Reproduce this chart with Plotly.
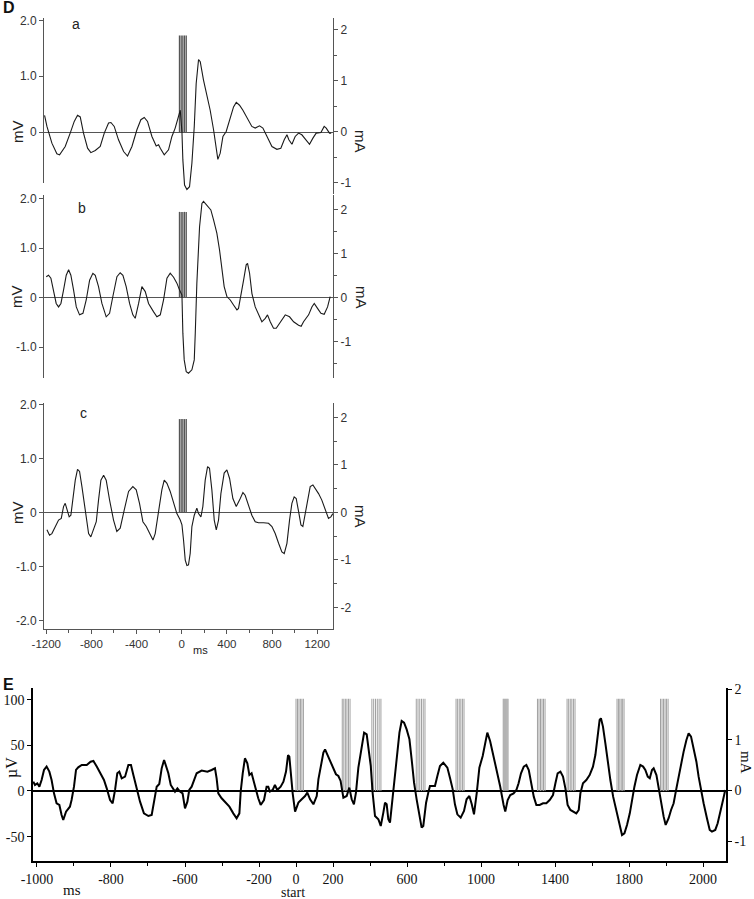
import plotly.graph_objects as go

W, H = 754, 899

# ---------------- Panel D data: time (ms) and potential (mV) ----------------
a_ms = [-1215,-1194,-1150,-1106,-1082,-1032,-988,-952,-923,-899,-870,-834,-805,-766,-722,-686,-648,-627,-598,-560,
        -515,-480,-441,-397,-362,-332,-303,-264,-226,-205,-190,-155,-117,-87,-58,-28,-13,2,10,25,46,69,90,111,128,
        149,164,193,223,252,282,306,320,341,365,394,424,459,483,512,542,583,621,651,689,719,754,799,843,878,908,932,
        949,976,1005,1035,1064,1103,1132,1162,1191,1233,1262,1280,1309,1324]
a_mv = [0.30,0.10,-0.20,-0.39,-0.41,-0.26,-0.02,0.19,0.30,0.27,-0.02,-0.29,-0.37,-0.33,-0.26,-0.02,0.16,0.17,0.10,-0.14,
        -0.35,-0.43,-0.26,0.04,0.22,0.26,0.19,-0.08,-0.25,-0.23,-0.29,-0.41,-0.32,-0.08,0.07,0.30,0.39,0.0,-0.50,-0.95,
        -1.03,-0.98,-0.56,0.10,0.87,1.30,1.26,0.93,0.66,0.39,0.04,-0.32,-0.49,-0.38,-0.08,0.01,0.22,0.45,0.53,0.48,
        0.39,0.24,0.10,0.07,0.11,0.07,-0.08,-0.26,-0.31,-0.29,-0.14,-0.05,-0.14,-0.22,-0.08,-0.02,-0.05,-0.14,-0.22,
        -0.11,-0.02,-0.01,0.10,0.07,-0.02,-0.02]

b_ms = [-1200,-1180,-1159,-1135,-1112,-1091,-1070,-1047,-1023,-1002,-982,-958,-934,-905,-875,-846,-816,-787,-766,-737,
        -707,-669,-639,-610,-574,-545,-521,-492,-462,-433,-412,-382,-353,-323,-294,-249,-220,-190,-161,-131,-102,-72,
        -43,-19,2,10,22,40,60,90,111,120,134,158,179,193,223,258,282,311,335,356,376,400,430,459,489,503,524,548,571,
        583,601,622,651,680,710,740,760,784,813,837,872,917,955,991,1035,1058,1079,1124,1153,1174,1203,1233,1262,1292,1315]
b_mv = [0.42,0.45,0.39,0.15,-0.12,-0.19,-0.12,0.15,0.45,0.56,0.45,0.15,-0.19,-0.35,-0.32,-0.05,0.35,0.49,0.45,0.22,
        -0.12,-0.39,-0.32,0.02,0.42,0.50,0.45,0.22,-0.12,-0.35,-0.42,-0.12,0.22,0.12,-0.12,-0.29,-0.39,-0.35,-0.05,0.39,
        0.49,0.41,0.29,0.15,0.05,-0.72,-1.26,-1.50,-1.53,-1.46,-1.26,-0.72,0.29,1.43,1.90,1.94,1.87,1.77,1.57,1.30,
        0.96,0.62,0.22,0.02,-0.05,-0.15,-0.25,-0.22,0.02,0.35,0.66,0.69,0.49,0.08,-0.19,-0.35,-0.49,-0.42,-0.35,-0.49,
        -0.62,-0.62,-0.49,-0.35,-0.39,-0.49,-0.56,-0.58,-0.49,-0.35,-0.19,-0.12,-0.22,-0.32,-0.34,-0.19,0.02]

c_ms = [-1194,-1171,-1150,-1121,-1091,-1067,-1047,-1032,-1017,-997,-982,-964,-943,-923,-905,-884,-855,-825,-805,-781,
        -757,-737,-716,-692,-669,-639,-604,-575,-545,-509,-471,-433,-403,-374,-344,-314,-285,-255,-235,-205,-176,-155,
        -131,-102,-72,-43,-13,2,16,31,46,60,75,90,111,134,149,170,187,208,229,246,267,288,306,326,347,376,400,424,453,
        483,512,542,562,592,621,651,680,725,769,799,828,858,887,908,932,955,976,996,1014,1035,1056,1073,1094,1115,1138,
        1162,1183,1212,1241,1271,1300,1321,1339]
c_mv = [-0.32,-0.42,-0.39,-0.26,-0.14,-0.11,0.11,0.17,0.08,-0.08,-0.05,0.23,0.60,0.80,0.76,0.48,0.05,-0.39,-0.45,-0.32,
        -0.17,0.23,0.60,0.69,0.60,0.23,-0.14,-0.35,-0.29,0.05,0.39,0.48,0.42,0.17,-0.17,-0.26,-0.39,-0.51,-0.39,0.05,
        0.42,0.60,0.54,0.39,0.20,-0.02,-0.14,-0.23,-0.51,-0.88,-0.98,-0.97,-0.76,-0.26,-0.05,0.08,-0.02,-0.08,0.11,0.60,
        0.85,0.82,0.42,-0.14,-0.32,-0.14,0.35,0.73,0.79,0.63,0.26,0.11,0.23,0.37,0.32,0.11,-0.05,-0.17,-0.19,-0.19,
        -0.20,-0.26,-0.39,-0.57,-0.73,-0.76,-0.57,-0.14,0.17,0.29,0.26,0.02,-0.23,-0.26,-0.02,0.29,0.48,0.51,0.45,0.35,
        0.23,0.05,-0.11,-0.08,-0.02]

# stimulus pulse train shown in panels a-c (ms), drawn up to this height (mV)
d_pulse_ms = [-20, -5, 10, 25, 40]
d_pulse_top_mv = 1.73

# ---------------- Panel E data: time (ms) and potential (uV) ----------------
e_ms = [-1420,-1411,-1398,-1387,-1375,-1362,-1348,-1333,-1321,-1308,-1294,-1279,-1267,-1258,-1243,-1222,-1213,-1200,
        -1189,-1177,-1158,-1131,-1110,-1095,-1077,-1059,-1038,-1023,-1005,-991,-978,-966,-955,-942,-924,-906,-892,-879,
        -861,-843,-822,-798,-780,-768,-753,-739,-726,-713,-703,-690,-677,-654,-641,-627,-613,-600,-587,-577,-564,-537,
        -510,-479,-456,-438,-429,-420,-402,-384,-360,-339,-321,-306,-299,-288,-276,-263,-252,-240,-222,-204,-191,-173,
        -159,-150,-141,-126,-114,-101,-83,-68,-54,-43,-36,-29,-18,-5,
        13,31,49,61,76,94,112,121,133,148,157,169,184,202,216,229,241,256,274,288,301,313,324,337,351,368,382,391,404,
        414,427,445,458,472,481,490,499,508,522,535,548,559,571,584,598,613,625,638,652,667,679,688,703,715,724,739,751,
        764,778,796,818,832,847,859,872,890,908,922,937,950,962,977,991,1009,1027,1034,1049,1063,1081,1094,1103,
        1122,1131,1144,1158,1176,1191,1203,1216,1231,1245,1258,1270,1285,1299,1317,1335,1353,1371,1389,1402,1414,1429,
        1443,1456,1468,1483,1501,1515,1528,1537,1551,1569,1587,1605,1618,1630,1641,1648,1659,1672,1685,1699,1714,1732,
        1750,1762,1775,1789,1804,1816,1829,1843,1861,1876,1888,1901,1912,1924,1933,1948,1960,1973,1987,1998,2014,2027,
        2041,2056,2068,2081,2095,2110,2122,2135,2149,2164,2176,2189,2203,2221,2236,2248,2266,2279,2293,2308,2320]
e_uv = [10.2,6.6,8.4,4.7,12.0,23.0,26.7,21.2,12.0,-2.6,-13.5,-15.3,-26.3,-31.8,-22.6,-17.2,-9.9,4.7,23.0,25.9,28.5,
        28.5,32.1,32.9,26.7,19.4,12.0,2.9,-9.9,-13.5,1.1,19.4,21.2,13.9,15.7,28.5,28.5,17.5,2.9,-11.7,-24.5,-27.4,-26.3,
        -13.5,4.7,7.7,24.8,34.0,26.7,19.4,6.6,-0.7,2.9,-0.7,-2.6,-19.0,-11.7,1.1,4.7,19.4,22.3,21.2,23.0,24.8,13.9,-2.6,
        -8.0,-11.7,-17.2,-24.5,-29.9,-24.5,-0.7,19.4,35.8,30.3,17.5,19.4,4.7,-8.0,-15.3,-9.9,4.7,4.7,-0.7,1.1,6.6,1.1,
        4.7,10.2,21.2,39.4,37.6,19.4,-2.6,-22.6,
        -12.8,-9.1,-5.5,-1.8,-9.1,-14.6,-5.5,12.8,27.4,42.0,45.6,40.2,32.9,23.7,18.3,16.4,11.0,-7.3,-5.5,3.7,-9.1,-14.6,
        -1.8,25.6,43.8,63.9,62.1,47.5,27.4,-1.8,-27.4,-31.0,-38.3,-23.7,-12.8,-14.6,-31.0,-34.7,-9.1,20.1,42.0,63.9,
        76.7,74.8,67.5,56.6,34.7,9.1,-9.1,-29.2,-40.2,-38.3,-12.8,-1.8,5.5,5.5,5.5,16.4,27.4,31.0,25.6,14.6,1.8,-14.6,
        -25.6,-29.2,-21.9,-9.1,-5.5,-14.6,-25.6,-1.8,25.6,38.3,58.4,63.9,54.8,42.0,27.4,14.6,5.5,
        -15.3,-22.6,-9.9,-4.4,-2.6,1.1,8.4,19.4,26.7,28.5,23.0,8.4,-6.2,-15.3,-15.3,-13.5,-13.5,-9.9,-4.4,8.4,19.4,21.2,
        15.7,2.9,-15.3,-20.8,-22.6,-24.5,-20.8,-2.6,8.4,12.0,17.5,26.7,39.4,59.5,77.8,79.6,70.5,52.2,32.1,12.0,-6.2,
        -22.6,-39.1,-48.2,-46.4,-37.2,-24.5,-9.9,4.7,17.5,28.5,26.7,23.0,15.7,13.9,23.0,24.8,17.5,2.9,-13.5,-28.1,-37.2,
        -29.9,-20.8,-13.5,2.9,15.7,28.5,43.1,55.9,63.2,59.5,46.7,32.1,15.7,1.1,-13.5,-29.9,-42.7,-44.5,-42.7,-35.4,
        -24.5,-9.9,1.1]

# stimulus bursts in E (ms), drawn as pulse lines up to this height (uV)
e_burst_start = [0, 250, 410, 650, 865, 1120, 1305, 1465, 1735, 1970]
e_burst_end = [40, 292, 459, 697, 908, 1146, 1346, 1508, 1773, 2011]
e_pulses_per_burst = 6
e_burst_top_uv = 101

# ---------------- tick labels ----------------
d_x_tickvals = [-1200, -800, -400, 0, 400, 800, 1200]
d_x_ticktext = ["-1200", "-800", "-400", "0", "400", "800", "1200"]
d_x_minor = [-1000, -600, -200, 200, 600, 1000]
e_x_tickvals = [-1400, -1000, -600, -200, 0, 200, 600, 1000, 1400, 1800, 2200]
e_x_ticktext = ["-1000", "-800", "-600", "-200", "0", "200", "600", "1000", "1400", "1800", "2000"]
e_x_minor = [-1200, -800, -400, 400, 800, 1200, 1600, 2000]


def dx(l, r):
    return [l / W, r / W]


def dy(top, bot):
    return [1 - bot / H, 1 - top / H]


def px(x):
    return x / W


def py(y):
    return 1 - y / H


DFONT = dict(family="Liberation Sans, Arial, sans-serif", size=12, color="#333")
EFONT = dict(family="Liberation Serif, Times New Roman, serif", size=14, color="#111")
DLINE = "#555"


def pulse_xy(times, top):
    xs, ys = [], []
    for t in times:
        xs += [t, t, None]
        ys += [0, top, None]
    return xs, ys


fig = go.Figure()

# D panels: traces
for xs, ys, ya in [(a_ms, a_mv, "y"), (b_ms, b_mv, "y4"), (c_ms, c_mv, "y6")]:
    px_, py_ = pulse_xy(d_pulse_ms, d_pulse_top_mv)
    fig.add_trace(go.Scatter(x=px_, y=py_, mode="lines", xaxis="x", yaxis=ya,
                             line=dict(color="#555", width=1.3), hoverinfo="skip"))
    fig.add_trace(go.Scatter(x=xs, y=ys, mode="lines", xaxis="x", yaxis=ya,
                             line=dict(color="#1a1a1a", width=1.1), hoverinfo="skip"))

# E bursts
e_times = []
for s, e in zip(e_burst_start, e_burst_end):
    n = e_pulses_per_burst
    e_times += [s + (e - s) * k / (n - 1) for k in range(n)]
bx, by = pulse_xy(e_times, e_burst_top_uv)
fig.add_trace(go.Scatter(x=bx, y=by, mode="lines", xaxis="x2", yaxis="y8",
                         line=dict(color="#a0a0a0", width=1), hoverinfo="skip"))
fig.add_trace(go.Scatter(x=e_ms, y=e_uv, mode="lines", xaxis="x2", yaxis="y8",
                         line=dict(color="black", width=2), hoverinfo="skip"))

# dummy traces so display-only axes are drawn
for xa, ya in [("x", "y2"), ("x", "y3"), ("x", "y5"), ("x", "y7"), ("x2", "y9")]:
    fig.add_trace(go.Scatter(x=[None], y=[None], mode="lines", xaxis=xa, yaxis=ya, hoverinfo="skip"))


def left_axis(domain, rng, vals, text, anchor="x", font=DFONT, color=DLINE, lw=1, zl=False, zlw=1):
    return dict(domain=domain, range=rng, anchor=anchor, side="left", showline=True, linecolor=color,
                linewidth=lw, ticks="outside", ticklen=4, tickcolor=color, tickmode="array",
                tickvals=vals, ticktext=text, tickfont=font, showgrid=False, zeroline=zl,
                zerolinecolor=color, zerolinewidth=zlw, fixedrange=True, automargin=False)


def right_axis(domain, rng, vals, text, minor_vals, anchor="x", overlaying=None, font=DFONT,
               color=DLINE, lw=1):
    d = dict(range=rng, anchor=anchor, side="right", showline=True, linecolor=color, linewidth=lw,
             ticks="outside", ticklen=4, tickcolor=color, tickmode="array", tickvals=vals,
             ticktext=text, tickfont=font, showgrid=False, zeroline=False, fixedrange=True,
             automargin=False)
    if minor_vals:
        d["minor"] = dict(tickmode="array", tickvals=minor_vals, ticks="outside", ticklen=3,
                          tickcolor=color, showgrid=False)
    if overlaying:
        d["overlaying"] = overlaying
    else:
        d["domain"] = domain
    return d


layout = dict(
    template="none",
    width=W, height=H, autosize=False, margin=dict(l=0, r=0, t=0, b=0, pad=0),
    paper_bgcolor="white", plot_bgcolor="rgba(0,0,0,0)", showlegend=False,
    xaxis=dict(domain=dx(44, 333), range=[-1220, 1340], anchor="y6", showline=True, linecolor=DLINE,
               linewidth=1, ticks="outside", ticklen=4, tickcolor=DLINE, tickmode="array",
               tickvals=d_x_tickvals, ticktext=d_x_ticktext, tickfont=dict(DFONT, size=11.5),
               minor=dict(tickmode="array", tickvals=d_x_minor, ticks="outside", ticklen=3,
                          tickcolor=DLINE, showgrid=False),
               showgrid=False, zeroline=False, fixedrange=True, automargin=False),
    xaxis2=dict(domain=dx(33, 726), range=[-1421.5, 2324], anchor="y8", showline=True, linecolor="black",
                linewidth=1.5, ticks="outside", ticklen=4, tickcolor="black", tickmode="array",
                tickvals=e_x_tickvals, ticktext=e_x_ticktext, tickfont=EFONT,
                minor=dict(tickmode="array", tickvals=e_x_minor, ticks="outside", ticklen=3,
                           tickcolor="black", showgrid=False),
                showgrid=False, zeroline=False, fixedrange=True, automargin=False),
    # panel a
    yaxis=dict(domain=dy(18, 193), range=[-1.093, 2.043], anchor="x", visible=True, showline=False,
               ticks="", showticklabels=False, showgrid=False, zeroline=True, zerolinecolor=DLINE,
               zerolinewidth=1, fixedrange=True, automargin=False),
    yaxis2=left_axis(dy(18, 183), [-0.914, 2.043], [0, 1, 2], ["0", "1.0", "2.0"]),
    yaxis3=right_axis(dy(18, 194), [-1.216, 2.235], [-1, 0, 1, 2], ["-1", "0", "1", "2"],
                      [-0.5, 0.5, 1.5]),
    # panel b
    yaxis4=left_axis(dy(195, 378), [-1.626, 2.071], [-1, 0, 1, 2], ["-1.0", "0", "1.0", "2.0"], zl=True),
    yaxis5=right_axis(None, [-1.83, 2.33], [-1, 0, 1, 2], ["-1", "0", "1", "2"],
                      [-1.5, -0.5, 0.5, 1.5], overlaying="y4"),
    # panel c
    yaxis6=left_axis(dy(403, 629), [-2.157, 2.028], [-2, -1, 0, 1, 2],
                     ["-2.0", "-1.0", "0", "1.0", "2.0"], zl=True),
    yaxis7=right_axis(None, [-2.453, 2.305], [-2, -1, 0, 1, 2], ["-2", "-1", "0", "1", "2"],
                      [-1.5, -0.5, 0.5, 1.5], overlaying="y6"),
    # panel E
    yaxis8=left_axis(dy(688, 861), [-76.7, 112.8], [-50, 0, 50, 100], ["-50", "0", "50", "100"],
                     anchor="x2", font=EFONT, color="black", lw=1.5, zl=True, zlw=1.5),
    yaxis9=right_axis(None, [-1.39, 2.02], [-1, 0, 1, 2], ["-1", "0", "1", "2"], None,
                      anchor="x2", overlaying="y8", font=EFONT, color="black", lw=1.5),
)
fig.update_layout(**layout)

ann = []


def add(text, x, y, size, family, color="#222", angle=0, bold=False, xanchor="center"):
    ann.append(dict(text=("<b>%s</b>" % text) if bold else text, x=px(x), y=py(y), xref="paper",
                    yref="paper", showarrow=False, textangle=angle, xanchor=xanchor, yanchor="middle",
                    font=dict(size=size, family=family, color=color)))


SANS = "Liberation Sans, Arial, sans-serif"
SERIF = "Liberation Serif, Times New Roman, serif"
add("D", 1, 8, 16, SANS, "#111", bold=True, xanchor="left")
add("a", 76, 24, 14, SANS)
add("b", 82, 208, 14, SANS)
add("c", 83, 413, 14, SANS)
for yy in (132, 297, 513):
    add("mV", 17, yy, 15, SANS, angle=-90)
for yy in (141, 297, 516):
    add("mA", 361, yy, 15, SANS, angle=90)
add("ms", 200, 650, 11, SANS)
add("E", 1, 684, 16, SANS, "#111", bold=True, xanchor="left")
add("µV", 12, 768, 16, SERIF, "#111", angle=-90)
add("mA", 746, 762, 15, SERIF, "#111", angle=90)
add("start", 293, 892, 14, SERIF, "#111")
add("ms", 72, 890, 15, SERIF, "#111")
fig.update_layout(annotations=ann)

fig.write_html("out.html", config={"displayModeBar": False},
               post_script="document.body.style.margin='0';document.body.style.overflow='hidden';")
